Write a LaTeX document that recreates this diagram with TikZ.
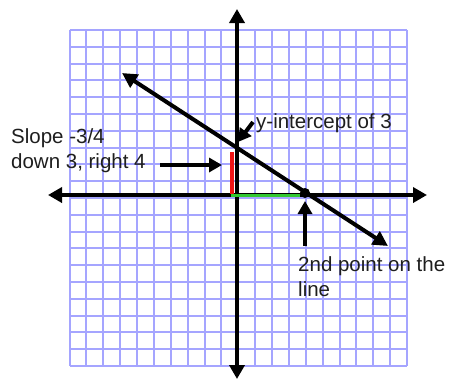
\documentclass[tikz,border=0pt]{standalone}
\usepackage{fontspec}
\setmainfont{Liberation Sans}
\usetikzlibrary{arrows.meta}
\definecolor{gridblue}{RGB}{165,165,255}
\definecolor{slopered}{RGB}{240,20,20}
\definecolor{rungreen}{RGB}{50,200,50}
\definecolor{txt}{RGB}{30,30,30}
\tikzset{
  gridline/.style={draw=gridblue, line width=2pt},
  axisline/.style={line width=4.2pt, {Triangle[length=14pt,width=15pt]}-{Triangle[length=14pt,width=15pt]}},
  mainline/.style={line width=4pt, {Triangle[length=15pt,width=15pt]}-{Triangle[length=15pt,width=15pt]}},
  callout/.style={line width=4pt, -{Triangle[length=13pt,width=14pt]}},
  lbl/.style={text=txt, inner sep=0pt, anchor=base west, font=\fontsize{20.5}{24}\selectfont},
  seg/.style={line width=3.8pt}
}
\begin{document}
\begin{tikzpicture}[x=1pt,y=-1pt]
\useasboundingbox (0,0) rectangle (455,381);
% grid
\foreach \i in {0,...,20}{
  \draw[gridline] ({69.5+\i*16.875},30) -- ({69.5+\i*16.875},366);
  \draw[gridline] (69.5,{30+\i*16.8}) -- (407,{30+\i*16.8});
}
% axes
\coordinate (xl) at (48,195);
\coordinate (xr) at (427,195);
\coordinate (yt) at (237,9);
\coordinate (yb) at (237,379);
\draw[axisline] (xl) -- (xr);
\draw[axisline] (yb) -- (yt);
% rise and run
\coordinate (r1) at (232,152);
\coordinate (r2) at (232,194);
\coordinate (g1) at (231,195.5);
\coordinate (g2) at (300,195.5);
\draw[seg, slopered] (r1) -- (r2);
\draw[seg, rungreen] (g1) -- (g2);
% main line
\coordinate (la) at (122,73);
\coordinate (lb) at (388,246);
\draw[mainline] (la) -- (lb);
\coordinate (pt2) at (305,193);
\fill (pt2) circle (5);
% labels
\node[lbl] (slope) at (11,143) {Slope -3/4};
\node[lbl] (down) at (11,168) {down 3, right 4};
\node[lbl] (yint) at (256,128) {y-intercept of 3};
\node[lbl] (second) at (298,271) {2nd point on the};
\node[lbl] (lineword) at (298,296) {line};
% callout arrows
\coordinate (c1s) at (160,165);
\coordinate (c1e) at (222,165);
\draw[callout] (c1s) -- (c1e);
\coordinate (c2s) at (253,122);
\coordinate (c2e) at (238,142);
\draw[callout] (c2s) -- (c2e);
\coordinate (c3s) at (305,246);
\coordinate (c3e) at (305,201);
\draw[callout] (c3s) -- (c3e);
\end{tikzpicture}
\end{document}
